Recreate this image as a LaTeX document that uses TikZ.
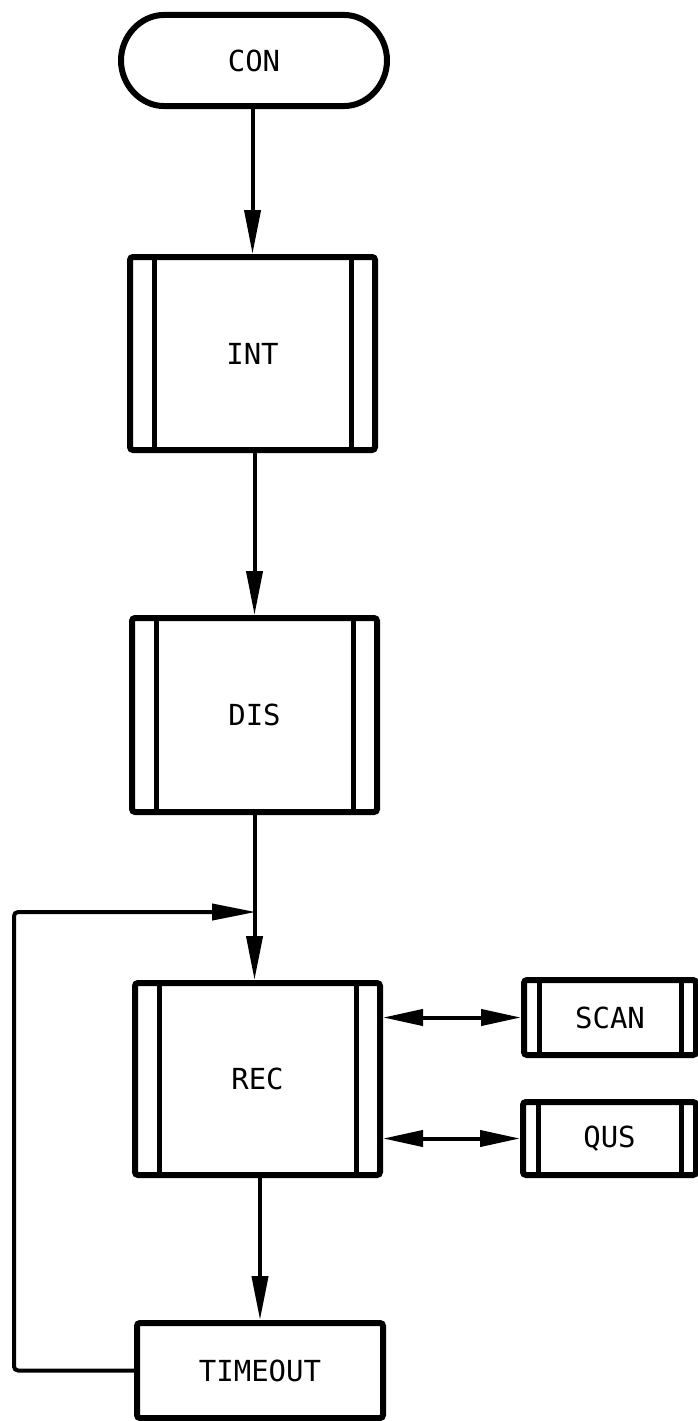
\documentclass[tikz,border=0pt]{standalone}
\usepackage{fontspec}
\setmonofont{DejaVu Sans Mono}
\usetikzlibrary{arrows.meta,shapes.misc}
\tikzset{
  box/.style={draw, line width=6pt, rounded corners=3pt, inner sep=0pt,
    font=\ttfamily\fontsize{29}{32}\selectfont},
  proc/.style={box, path picture={
    \draw[line width=5pt] ([xshift=#1]path picture bounding box.north west) -- ([xshift=#1]path picture bounding box.south west);
    \draw[line width=5pt] ([xshift=-#1]path picture bounding box.north east) -- ([xshift=-#1]path picture bounding box.south east);}},
  proc/.default=24pt,
  arr/.style={line width=4pt, -{Triangle[length=44pt,width=16pt]}},
  dbl/.style={line width=4pt, {Triangle[length=40pt,width=16pt]}-{Triangle[length=40pt,width=16pt]}},
}
\begin{document}
\begin{tikzpicture}[x=1pt,y=-1pt]
\useasboundingbox (0,0) rectangle (697,1421);
\fill[white] (0,0) rectangle (697,1421);
\node[box, rounded rectangle, minimum width=266pt, minimum height=91pt] (CON) at (254,60.5) {CON};
\node[proc, minimum width=245pt, minimum height=193pt] (INT) at (252.5,353.5) {INT};
\node[proc, minimum width=245pt, minimum height=194pt] (DIS) at (254.5,715) {DIS};
\node[proc, minimum width=245pt, minimum height=192pt] (REC) at (257.5,1079) {REC};
\node[proc=15pt, minimum width=172pt, minimum height=75pt] (SCAN) at (610,1017.5) {SCAN};
\node[proc=15pt, minimum width=173pt, minimum height=73pt] (QUS) at (609.5,1138.5) {QUS};
\node[box, minimum width=246pt, minimum height=95pt] (TIMEOUT) at (260,1370.5) {TIMEOUT};
\coordinate (fbL) at (14,912);
\coordinate (fbJ) at (256,912);
\draw[arr] (INT.north |- CON.south) -- (INT.north);
\draw[arr] (DIS.north |- INT.south) -- (DIS.north);
\draw[arr] (DIS.south) -- (DIS.south |- REC.north);
\draw[arr] (TIMEOUT.north |- REC.south) -- (TIMEOUT.north);
\draw[arr, rounded corners=4pt] (TIMEOUT.west) -| (fbL) -- (fbJ);
\draw[dbl] (REC.east |- SCAN.west) -- (SCAN.west);
\draw[dbl] (REC.east |- QUS.west) -- (QUS.west);
\end{tikzpicture}
\end{document}
